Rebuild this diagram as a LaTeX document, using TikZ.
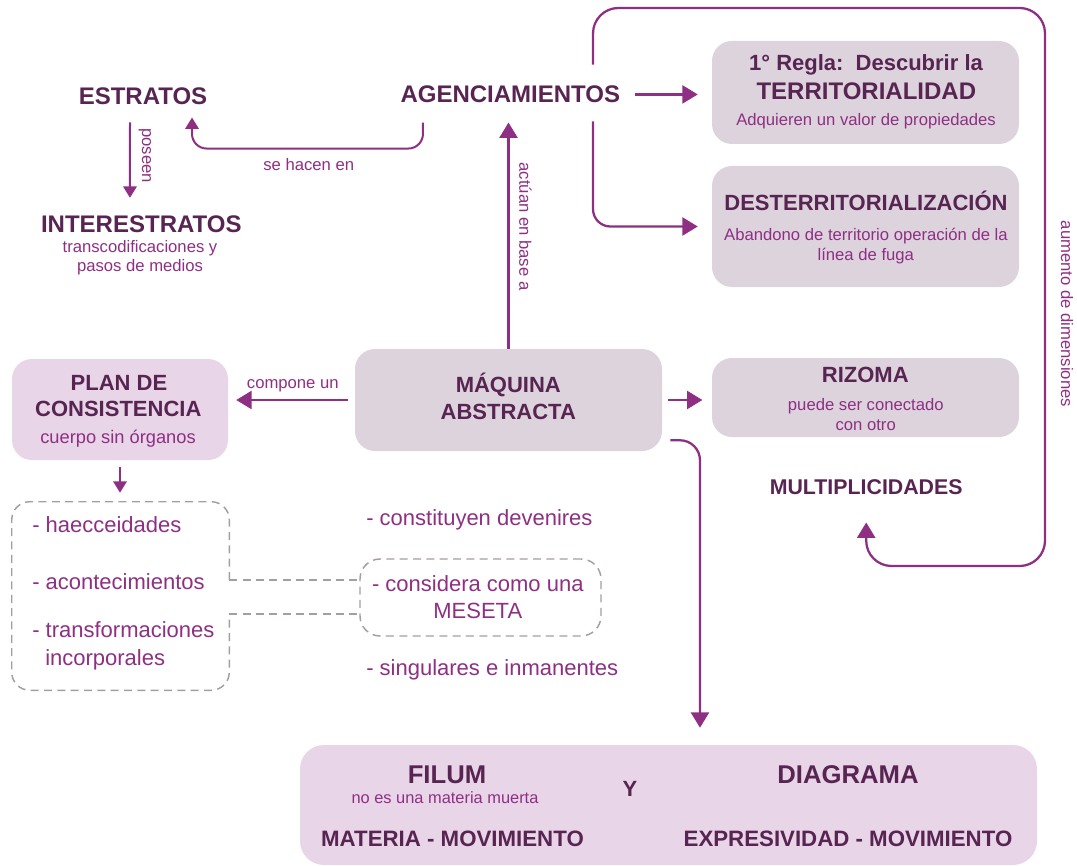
\documentclass[tikz,border=0pt]{standalone}
\usepackage{fontspec}
\setmainfont{Liberation Sans}
\usepackage{tikz}
\usetikzlibrary{arrows.meta}
\definecolor{titlecol}{RGB}{88,36,82}
\definecolor{accent}{RGB}{142,47,131}
\definecolor{boxgray}{RGB}{221,211,221}
\definecolor{boxpink}{RGB}{232,213,231}
\definecolor{dashgray}{RGB}{166,156,165}
\newcommand{\fbig}{\fontsize{18}{21.6}\selectfont\bfseries}
\newcommand{\ftitle}{\fontsize{16.5}{19.8}\selectfont\bfseries}
\newcommand{\fnote}{\fontsize{12.5}{15}\selectfont}
\newcommand{\flist}{\fontsize{16.5}{19.8}\selectfont}

\begin{document}
\begin{tikzpicture}[x=0.75pt, y=-0.75pt,
    ttl/.style={font=\ftitle, text=titlecol, inner sep=0pt, anchor=base},
    bigttl/.style={ttl, font=\fbig},
    note/.style={font=\fnote, text=accent, inner sep=0pt, anchor=base},
    listtxt/.style={font=\flist, text=accent, inner sep=0pt, anchor=base west},
    graybox/.style={fill=boxgray, rounded corners=15pt, inner sep=0pt},
    pinkbox/.style={fill=boxpink, rounded corners=15pt, inner sep=0pt},
    dashbox/.style={draw=dashgray, line width=1.1pt, dash pattern=on 6pt off 4pt, rounded corners=15pt, inner sep=0pt},
    dline/.style={draw=dashgray, line width=1.1pt, dash pattern=on 6pt off 4pt},
    arr/.style={draw=accent, line width=1.7pt, -{Triangle[length=11.5pt,width=13.5pt]}},
    smallarr/.style={arr, line width=1.5pt, -{Triangle[length=8.5pt,width=10pt]}}]
    \useasboundingbox (0,0) rectangle (1077,866);

    % Boxes
    \node[graybox, minimum width=230.25pt, minimum height=77.25pt] (regla) at (865.5,92.5) {};
    \node[graybox, minimum width=230.25pt, minimum height=90.75pt] (desterr) at (865.5,226.5) {};
    \node[graybox, minimum width=230.25pt, minimum height=59.25pt] (rizoma) at (865.5,397.5) {};
    \node[graybox, minimum width=230.25pt, minimum height=76.5pt] (maquina) at (508.5,400) {};
    \node[pinkbox, minimum width=162pt, minimum height=75.75pt] (plan) at (120,409.5) {};
    \node[pinkbox, rounded corners=18pt, minimum width=552.75pt, minimum height=90pt] (bottom) at (668.5,805) {};
    \node[dashbox, minimum width=180.75pt, minimum height=57.75pt] (dmid) at (480.5,597.5) {};
    \node[inner sep=0pt, minimum width=162.75pt, minimum height=141pt] (dleft) at (120.5,596) {};

    % Estratos side
    \node[bigttl] (estratos) at (143,105) {ESTRATOS};
    \node[bigttl] (interestratos) at (141.3,232.7) {INTERESTRATOS};
    \node[note] (transcod) at (140,252.7) {transcodificaciones y};
    \node[note] (pasos) at (140,272) {pasos de medios};
    \node[note, rotate=-90, anchor=center] (poseen) at (145,155.5) {poseen};
    \node[bigttl] (agenc) at (510.3,102.7) {AGENCIAMIENTOS};
    \node[note] (sehacen) at (308.7,171) {se hacen en};
    \node[note, rotate=-90, anchor=center] (actuan) at (525.5,226.5) {actúan en base a};
    \node[note, rotate=-90, anchor=center] (aumento) at (1067,314) {aumento de dimensiones};

    % Right column
    \node[ttl] (regla1) at (866,71) {1° Regla:~~Descubrir la};
    \node[bigttl] (regla2) at (866.3,99.3) {TERRITORIALIDAD};
    \node[note] (regla3) at (866,126) {Adquieren un valor de propiedades};
    \node[ttl] (dest1) at (866,211) {DESTERRITORIALIZACIÓN};
    \node[note] (dest2) at (866,240.7) {Abandono de territorio operación de la};
    \node[note] (dest3) at (865.8,260) {línea de fuga};
    \node[ttl] (riz1) at (865.3,382.7) {RIZOMA};
    \node[note] (riz2) at (865.8,410.7) {puede ser conectado};
    \node[note] (riz3) at (865.7,430.7) {con otro};
    \node[ttl, font=\fontsize{16}{19}\selectfont\bfseries] (multi) at (866.2,494) {MULTIPLICIDADES};

    % Middle
    \node[ttl] (maq1) at (508.3,392.7) {MÁQUINA};
    \node[ttl] (maq2) at (508.3,419.3) {ABSTRACTA};
    \node[ttl] (plan1) at (119,390) {PLAN DE};
    \node[ttl] (plan2) at (118.3,416.7) {CONSISTENCIA};
    \node[note, font=\fontsize{13.7}{16}\selectfont] (plan3) at (118,443.3) {cuerpo sin órganos};
    \node[note] (compone) at (292.8,388.3) {compone un};

    % Lists
    \node[listtxt] (haec) at (32,532.7) {- haecceidades};
    \node[listtxt] (acont) at (32,589) {- acontecimientos};
    \node[listtxt] (transf) at (32,637.7) {- transformaciones};
    \node[listtxt] (incorp) at (45,665) {incorporales};
    \node[listtxt] (devenir) at (366,525) {- constituyen devenires};
    \node[listtxt, anchor=base] (considera) at (477.8,591.7) {- considera como una};
    \node[listtxt, anchor=base] (meseta) at (477.8,618.3) {MESETA};
    \node[listtxt] (singular) at (366,675) {- singulares e inmanentes};

    % Bottom box
    \node[ttl, font=\fontsize{19.25}{23}\selectfont\bfseries] (filum) at (447,783.5) {FILUM};
    \node[note, font=\fontsize{12.3}{15}\selectfont] (filumsub) at (445,803) {no es una materia muerta};
    \node[ttl] (yy) at (630,796) {Y};
    \node[ttl, font=\fontsize{19.25}{23}\selectfont\bfseries] (diagrama) at (848,783.5) {DIAGRAMA};
    \node[ttl, font=\fontsize{16.7}{20}\selectfont\bfseries] (matmov) at (452.5,846) {MATERIA - MOVIMIENTO};
    \node[ttl, font=\fontsize{16.7}{20}\selectfont\bfseries] (expmov) at (848,846) {EXPRESIVIDAD - MOVIMIENTO};

    % Connectors
    \draw[smallarr] ([xshift=-9.75pt,yshift=-12.75pt]estratos.south) -- ([xshift=-8.5pt,yshift=13.4pt]interestratos.north);
    \draw[smallarr, rounded corners=11pt] ([xshift=-65.5pt,yshift=-14.5pt]agenc.south) -- ++(0,26) -| ([xshift=36.75pt,yshift=-9pt]estratos.south);
    \draw[arr, shorten >=14.5pt] (maquina.north) -- (maquina.north |- agenc.south);
    \draw[arr, shorten <=11pt, shorten >=10.5pt] (agenc.east) -- (agenc.east -| regla.west);
    \draw[arr, rounded corners=19pt] ([xshift=-20.5pt,yshift=15.7pt]agenc.north east) |- (1045,8) -- (1045,566) -| ([yshift=-21pt]multi.south);
    \draw[arr, rounded corners=13pt, shorten >=10.5pt] ([xshift=-20.5pt,yshift=-13.7pt]agenc.south east) |- (desterr.west);
    \draw[arr, shorten <=4.5pt, shorten >=7pt] (maquina.east) -- (maquina.east -| rizoma.west);
    \draw[arr, rounded corners=15pt] ([xshift=6pt,yshift=8.25pt]maquina.south east) -| ([xshift=23.6pt,yshift=12.75pt]bottom.north);
    \draw[arr, shorten <=5pt, shorten >=6pt] (maquina.west) -- (maquina.west -| plan.east);
    \draw[smallarr, shorten <=5pt, shorten >=6.75pt] (plan.south) -- (plan.south |- dleft.north);

    % Dashed outline and links
    \draw[dline, rounded corners=13.5pt] ([yshift=12pt]dleft.east) -- (dleft.north east) -- (dleft.north west) -- (dleft.south west) -- (dleft.south east) -- ([yshift=-13.5pt]dleft.east);
    \draw[dline] ([yshift=12pt]dleft.east) -- ++(131,0);
    \draw[dline] ([yshift=-13.5pt]dleft.east) -- ++(131,0);
\end{tikzpicture}
\end{document}
